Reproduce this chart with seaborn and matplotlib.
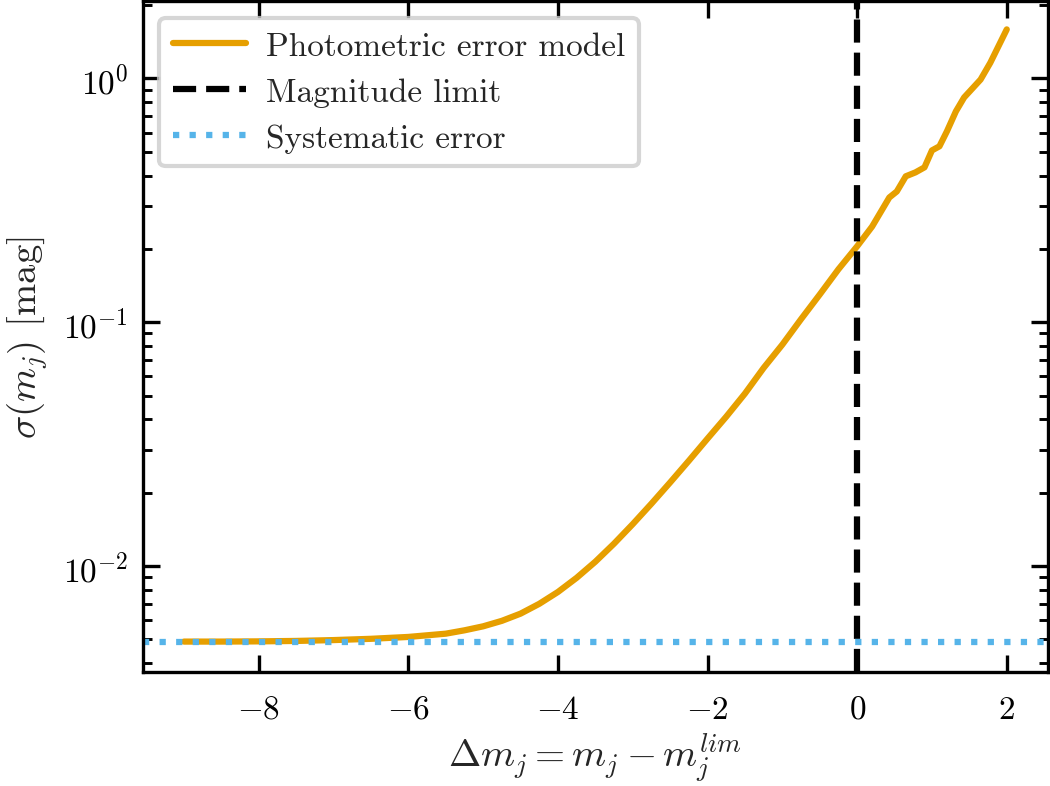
import numpy as np
import pandas as pd
import matplotlib
matplotlib.use("Agg")
import matplotlib.pyplot as plt
import seaborn as sns

# ---- data ----
delta_m = [-9.0, -8.5, -8.0, -7.5, -7.0, -6.5, -6.0, -5.5, -5.25, -5.0, -4.75, -4.5,
           -4.25, -4.0, -3.75, -3.5, -3.25, -3.0, -2.75, -2.5, -2.25, -2.0, -1.75,
           -1.5, -1.25, -1.0, -0.75, -0.5, -0.25, 0.0, 0.2, 0.43, 0.53, 0.65, 0.78,
           0.9, 1.0, 1.1, 1.2, 1.32, 1.43, 1.65, 1.78, 2.0]
sigma = [0.00490, 0.00490, 0.00491, 0.00493, 0.00497, 0.00503, 0.00512, 0.00528,
         0.00545, 0.00566, 0.00596, 0.00638, 0.00700, 0.00783, 0.00895, 0.01042,
         0.01236, 0.01486, 0.01803, 0.02203, 0.02704, 0.03334, 0.041, 0.051, 0.065,
         0.081, 0.103, 0.130, 0.165, 0.205, 0.247, 0.325, 0.344, 0.397, 0.412,
         0.432, 0.507, 0.527, 0.607, 0.733, 0.836, 0.99, 1.16, 1.59]
magnitude_limit = 0.0
systematic_error = 0.0049
labels = ["Photometric error model", "Magnitude limit", "Systematic error"]
x_ticks = [-8, -6, -4, -2, 0, 2]

df = pd.DataFrame({"dm": delta_m, "sigma": sigma})

sns.set_style("ticks")
plt.rcParams.update({
    "font.family": "serif",
    "font.serif": ["cmr10"],
    "mathtext.fontset": "cm",
    "axes.formatter.use_mathtext": True,
    "font.size": 8,
    "axes.unicode_minus": True,
    "axes.linewidth": 0.8,
    "xtick.direction": "in",
    "ytick.direction": "in",
    "xtick.top": True,
    "ytick.right": True,
    "xtick.major.size": 4,
    "ytick.major.size": 4,
    "ytick.minor.size": 2.2,
    "xtick.major.width": 0.8,
    "ytick.major.width": 0.8,
    "ytick.minor.width": 0.7,
    "xtick.color": "black",
    "ytick.color": "black",
    "axes.edgecolor": "black",
})

fig, ax = plt.subplots(figsize=(3.5, 2.623), dpi=300)
fig.subplots_adjust(left=0.136, right=0.998, top=0.997, bottom=0.145)

sns.lineplot(data=df, x="dm", y="sigma", ax=ax, color="#E69F00", lw=1.5,
             label=labels[0])
ax.axvline(magnitude_limit, color="black", ls="--", lw=1.5, label=labels[1])
ax.axhline(systematic_error, color="#56B4E9", ls=":", lw=1.5, label=labels[2])

ax.set_yscale("log")
ax.set_xlim(-9.55, 2.55)
ax.set_ylim(0.00368, 2.07)
ax.set_xticks(x_ticks)
ax.minorticks_off()
ax.yaxis.set_minor_locator(matplotlib.ticker.LogLocator(base=10, subs=np.arange(2, 10), numticks=20))
ax.yaxis.set_minor_formatter(matplotlib.ticker.NullFormatter())
ax.tick_params(axis="both", which="both", direction="in", top=True, right=True)
ax.tick_params(axis="x", which="minor", top=False, bottom=False)
ax.tick_params(axis="x", which="major", pad=5.5)

ax.set_xlabel(r"$\Delta m_j = m_j - m_j^{lim}$", fontsize=9.3, labelpad=1.5)
ax.set_ylabel(r"$\sigma(m_j)$ [mag]", fontsize=9.3, labelpad=3)

leg = ax.legend(loc="upper left", frameon=True, fancybox=True, framealpha=0.8,
                edgecolor="0.8", handlelength=2.2, handletextpad=0.6)

fig.savefig("out.png", dpi=300)
